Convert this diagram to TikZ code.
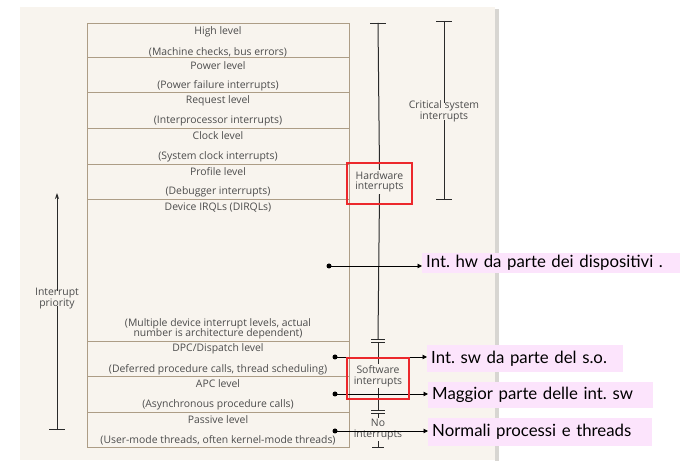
\documentclass[tikz,border=0pt]{standalone}
\usepackage{fontspec}
\setmainfont{Open Sans}
\newfontfamily\notefont{Lato}
\usetikzlibrary{arrows.meta}
\definecolor{panel}{HTML}{F8F4EE}
\definecolor{panelshade}{HTML}{D8D6D2}
\definecolor{rule}{HTML}{AD9D86}
\definecolor{ink}{HTML}{4C4C4C}
\definecolor{axis}{HTML}{2A2A2A}
\definecolor{framered}{RGB}{236,40,44}
\definecolor{notebg}{HTML}{FCE4FC}
\frenchspacing
\begin{document}
\begin{tikzpicture}[x=1pt,y=-1pt,
  lvl/.style={draw=rule, line width=0.9pt, minimum width=262pt, anchor=north west, inner sep=0pt},
  lbl/.style={text=ink, font=\fontsize{10.4}{10.6}\selectfont, inner sep=0.5pt, align=center},
  axisline/.style={draw=axis, line width=1pt},
  tick/.style={draw=axis, line width=0.85pt},
  redframe/.style={draw=framered, line width=1.2pt},
  dot/.style={circle, fill=black, inner sep=0pt, minimum size=5pt},
  conn/.style={draw=black, line width=0.9pt, -{Triangle[length=4.5pt,width=4.5pt]}},
  note/.style={fill=notebg, anchor=north west, inner xsep=4pt, inner ysep=0pt,
    font=\notefont\fontsize{16.8}{18}\selectfont, align=left}
]
\useasboundingbox (0,0) rectangle (681,462);
\fill[white] (0,0) rectangle (681,462);
% page panel with its shadow
\fill[panelshade] (495,9) rectangle (499,461);
\fill[panel] (20,7) rectangle (495,460);

% priority table
\node[lvl, minimum height=34pt] (high) at (87,23) {};
\node[lbl] (hight) at (218,32) {High level};
\node[lbl] (highs) at (218,52) {(Machine checks, bus errors)};
\node[lvl, minimum height=35pt] (power) at (87,57) {};
\node[lbl] (powert) at (218,66) {Power level};
\node[lbl] (powers) at (218,86) {(Power failure interrupts)};
\node[lvl, minimum height=36pt] (request) at (87,92) {};
\node[lbl] (requestt) at (218,101) {Request level};
\node[lbl] (requests) at (218,121) {(Interprocessor interrupts)};
\node[lvl, minimum height=36pt] (clock) at (87,128) {};
\node[lbl] (clockt) at (218,136) {Clock level};
\node[lbl] (clocks) at (218,157) {(System clock interrupts)};
\node[lvl, minimum height=35pt] (profile) at (87,164) {};
\node[lbl] (profilet) at (218,172) {Profile level};
\node[lbl] (profiles) at (218,192) {(Debugger interrupts)};
\node[lvl, minimum height=142pt] (device) at (87,199) {};
\node[lbl] (devicet) at (218,208) {Device IRQLs (DIRQLs)};
\node[lbl] (devices) at (218,329) {(Multiple device interrupt levels, actual\\number is architecture dependent)};
\node[lvl, minimum height=35pt] (dpc) at (87,341) {};
\node[lbl] (dpct) at (218,349) {DPC/Dispatch level};
\node[lbl] (dpcs) at (218,370) {(Deferred procedure calls, thread scheduling)};
\node[lvl, minimum height=36pt] (apc) at (87,376) {};
\node[lbl] (apct) at (218,384) {APC level};
\node[lbl] (apcs) at (218,405) {(Asynchronous procedure calls)};
\node[lvl, minimum height=35pt] (passive) at (87,412) {};
\node[lbl] (passivet) at (218,420) {Passive level};
\node[lbl] (passives) at (218,440) {(User-mode threads, often kernel-mode threads)};

% hardware / software / none axis
\node[lbl, inner sep=1.5pt] (hwlbl) at (379.5,182) {Hardware\\interrupts};
\node[lbl, inner sep=1.5pt] (swlbl) at (378,376) {Software\\interrupts};
\node[lbl, inner sep=1.5pt] (nolbl) at (378,429.5) {No\\interrupts};
\coordinate (axtop) at (378,23);
\coordinate (brkA) at (378,339);
\coordinate (brkB) at (378,342);
\coordinate (brkC) at (378,410);
\coordinate (brkD) at (378,413);
\coordinate (axbot) at (378,447);
\draw[tick] ([xshift=-8pt]axtop) -- ([xshift=8pt]axtop);
\draw[axisline] (axtop) -- (hwlbl.north);
\draw[axisline] (hwlbl.south) -- (brkA);
\draw[tick] ([xshift=-7pt]brkA) -- ([xshift=7pt]brkA);
\draw[tick] ([xshift=-7pt]brkB) -- ([xshift=7pt]brkB);
\draw[axisline] (brkB) -- (swlbl.north);
\draw[axisline] (swlbl.south) -- (brkC);
\draw[tick] ([xshift=-7pt]brkC) -- ([xshift=7pt]brkC);
\draw[tick] ([xshift=-7pt]brkD) -- ([xshift=7pt]brkD);
\draw[axisline] (brkD) -- (nolbl.north);
\draw[axisline] (nolbl.south) -- (axbot);
\draw[tick] ([xshift=-6pt]axbot) -- ([xshift=6pt]axbot);

% critical system interrupts span
\node[lbl] (critlbl) at (444,111.5) {Critical system\\interrupts};
\coordinate (crittop) at (444,21);
\coordinate (critbot) at (444,199);
\draw[tick] ([xshift=-8pt]crittop) -- ([xshift=8pt]crittop);
\draw[tick] ([xshift=-8pt]critbot) -- ([xshift=8pt]critbot);
\draw[axisline] (crittop) -- ([yshift=-3pt]critlbl.north);
\draw[axisline] ([yshift=3pt]critlbl.south) -- (critbot);

% interrupt priority arrow
\node[lbl] (prilbl) at (57,298.5) {Interrupt\\priority};
\coordinate (pritop) at (57,193);
\coordinate (pribot) at (57,429);
\draw[axisline, -{Stealth[length=6pt,width=4pt]}] ([yshift=-3pt]prilbl.north) -- (pritop);
\draw[axisline] ([yshift=3pt]prilbl.south) -- (pribot);
\draw[tick] ([xshift=-8pt]pribot) -- ([xshift=8pt]pribot);

% notes
\node[note, minimum width=258pt, minimum height=20pt, text width=250pt] (nhw) at (422,253) {Int. hw da parte dei dispositivi .};
\node[note, minimum width=196pt, minimum height=27pt, text width=188pt] (nsw) at (427,345) {Int. sw da parte del s.o.};
\node[note, minimum width=225pt, minimum height=26pt, text width=217pt] (nmost) at (428,382) {Maggior parte delle int. sw};
\node[note, minimum width=224pt, minimum height=28pt, text width=216pt] (nproc) at (428,418) {Normali processi e threads};

\node[dot] (dhw) at (329,266) {};
\node[dot] (dsw) at (335,357) {};
\node[dot] (dmost) at (335,394) {};
\node[dot] (dproc) at (335,431) {};
\draw[conn] (dhw.center) -- (dhw -| nhw.west);
\draw[conn] (dsw.center) -- (dsw -| nsw.west);
\draw[conn] (dmost.center) -- (dmost -| nmost.west);
\draw[conn] (dproc.center) -- (dproc -| nproc.west);

% red frames round the two interrupt classes
\draw[redframe] (347,163) rectangle (412,204);
\draw[redframe] (347,358) rectangle (409,399);
\end{tikzpicture}
\end{document}
